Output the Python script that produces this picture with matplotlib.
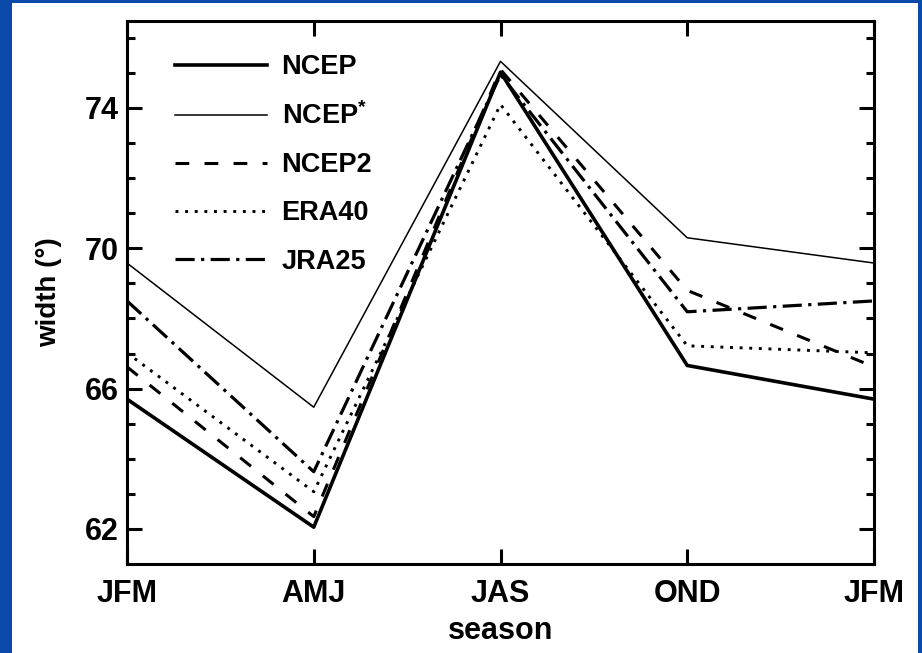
import matplotlib
matplotlib.use('Agg')
import matplotlib.pyplot as plt
from matplotlib.patches import Rectangle

seasons = ["JFM", "AMJ", "JAS", "OND", "JFM"]
ncep = [65.7, 62.05, 75.02, 66.66, 65.7]
ncep_star = [69.58, 65.47, 75.33, 70.3, 69.58]
ncep2 = [66.62, 62.35, 75.1, 68.8, 66.62]
era40 = [67.02, 63.06, 74.1, 67.22, 67.02]
jra25 = [68.5, 63.63, 74.95, 68.19, 68.5]

plt.rcParams['font.family'] = ['Liberation Sans', 'DejaVu Sans']
plt.rcParams['font.weight'] = 'bold'
plt.rcParams['mathtext.default'] = 'regular'

fig = plt.figure(figsize=(9.22, 6.53), dpi=100)
fig.patch.set_facecolor('#0a48aa')

# white panel inside the blue frame
bg = fig.add_axes([0, 0, 1, 1], zorder=-10)
bg.add_patch(Rectangle((12 / 922, 0), (918 - 12) / 922, 1 - 3 / 653,
                       facecolor='white', edgecolor='none'))
bg.set_xlim(0, 1)
bg.set_ylim(0, 1)
bg.axis('off')

ax = fig.add_axes([127 / 922, 1 - 564 / 653, (874 - 127) / 922, (564 - 21) / 653])
ax.patch.set_alpha(0)
x = range(len(seasons))

ax.plot(x, ncep, color='black', lw=2.6, label='NCEP')
ax.plot(x, ncep_star, color='black', lw=1.1, label='NCEP$^{*}$')
ax.plot(x, ncep2, color='black', lw=2.2, dashes=(4.5, 5), label='NCEP2')
ax.plot(x, era40, color='black', lw=2.1, dashes=(1, 2.3), label='ERA40')
ax.plot(x, jra25, color='black', lw=2.3, dashes=(6, 2, 1, 2), label='JRA25')

ax.set_xlim(0, 4)
ax.set_ylim(61.0, 76.48)
ax.set_xticks(list(x))
ax.set_xticklabels(seasons)
ax.set_yticks([62, 66, 70, 74])
ax.set_yticks(range(62, 77), minor=True)
ax.tick_params(axis='both', which='both', direction='in', width=2.2,
               top=True, right=True, labelsize=22)
ax.tick_params(axis='both', which='major', length=11)
ax.tick_params(axis='y', which='minor', length=6)
ax.tick_params(axis='x', which='minor', bottom=False, top=False)
ax.tick_params(axis='x', which='major', pad=11)
ax.tick_params(axis='y', which='major', pad=6)
for s in ax.spines.values():
    s.set_linewidth(2.2)

ax.set_xlabel('season', fontsize=22, fontweight='bold', labelpad=5)
ax.set_ylabel('width (°)', fontsize=20, fontweight='bold', labelpad=16)

leg = ax.legend(loc='upper left', bbox_to_anchor=(0.031, 0.984), frameon=False,
                fontsize=19.5, handlelength=3.4, handletextpad=0.55,
                labelspacing=0.82)
for t in leg.get_texts():
    t.set_fontweight('bold')

fig.savefig('out.png', dpi=100, facecolor=fig.get_facecolor())
